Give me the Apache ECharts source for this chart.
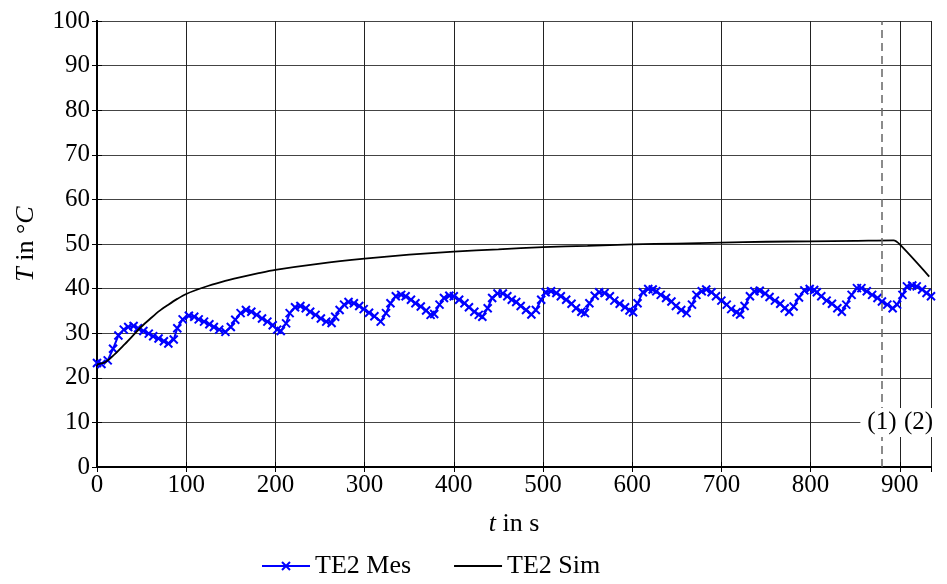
<!DOCTYPE html>
<html>
<head>
<meta charset="utf-8">
<script src="https://cdn.jsdelivr.net/npm/echarts@6/dist/echarts.min.js"></script>
<style>html,body{margin:0;padding:0;background:#fff}#c{width:947px;height:584px}</style>
</head>
<body>
<div id="c"></div>
<script>
// Measured TE2 (time in s, temperature in °C)
const mesT = [0,5,12,18,24,30,35,41,46,52,58,63,69,75,80,86,90,96,103,109,114,120,126,131,137,144,150,155,161,167,173,179,185,191,197,202,206,212,216,222,228,234,239,245,251,257,263,267,272,277,282,288,294,299,305,311,318,324,329,335,341,346,352,357,363,369,374,378,384,389,395,400,406,412,417,423,428,432,438,443,449,455,460,465,470,475,481,487,492,498,503,509,515,520,526,532,537,543,547,552,558,563,569,575,580,586,592,597,601,606,612,618,623,627,632,638,644,649,655,661,667,672,678,683,689,694,700,706,711,717,721,726,732,737,743,749,754,760,766,771,776,781,787,793,799,804,807,812,818,824,830,835,840,846,852,857,863,869,875,880,886,892,897,903,908,914,919,925,930,935];
const mesV = [23.3,23.1,23.9,26.5,29.5,30.8,31.4,31.6,31.1,30.5,29.9,29.3,28.8,28.2,27.7,28.6,31.1,33.1,33.9,33.7,33.1,32.6,32.0,31.4,30.8,30.3,31.4,33.0,34.5,35.2,34.8,34.1,33.3,32.6,31.8,30.8,30.5,32.2,34.5,35.8,36.1,35.6,34.8,34.1,33.3,32.6,32.3,33.7,35.2,36.4,37.0,36.7,36.1,35.4,34.6,33.8,32.6,34.5,36.7,38.3,38.6,38.3,37.5,36.7,36.0,35.1,34.1,34.3,36.4,37.9,38.4,38.3,37.5,36.7,35.8,34.8,34.1,33.7,35.6,37.9,38.9,38.9,38.3,37.5,37.0,36.1,35.2,34.2,35.2,37.5,39.2,39.4,39.0,38.3,37.5,36.6,35.6,34.8,34.5,36.7,38.4,39.2,39.0,38.3,37.3,36.6,35.8,35.1,34.7,36.7,39.2,39.9,39.8,39.4,38.6,37.9,37.1,36.1,35.2,34.5,36.4,38.6,39.4,39.8,39.2,38.3,37.3,36.4,35.4,34.7,34.2,36.1,38.3,39.4,39.5,38.9,38.1,37.3,36.6,35.6,34.8,36.0,38.0,39.6,39.9,39.7,39.2,38.3,37.3,36.6,35.6,34.8,36.4,38.6,40.1,40.1,39.4,38.6,37.9,37.1,36.4,35.6,36.4,38.6,40.5,40.7,40.5,39.8,39.0,38.3];
// Simulated TE2
const simT = [0,10,20,30,40,50,60,70,80,90,100,120,140,160,180,200,250,300,350,400,450,500,550,600,650,700,750,800,850,893,900,933];
const simV = [23.0,23.6,25.3,27.3,29.4,31.5,33.3,35.0,36.4,37.7,38.8,40.3,41.5,42.5,43.4,44.2,45.6,46.7,47.6,48.3,48.8,49.3,49.6,49.9,50.1,50.3,50.5,50.6,50.7,50.8,49.9,42.7];
// Annotations
const annX = [880, 921];
const annText = ['(1)', '(2)'];
const annY = 10;
const dashedX = 880;

const FONT = '"Liberation Serif", "DejaVu Serif", serif';
const FS = 25;
const FS2 = 26;
const chart = echarts.init(document.getElementById('c'), null, {renderer: 'canvas'});
const mes = mesT.map((t, i) => [t, mesV[i]]);
const sim = simT.map((t, i) => [t, simV[i]]);
const xMark = 'path://M0,0L10,10M10,0L0,10';

chart.setOption({
  animation: false,
  backgroundColor: '#fff',
  textStyle: {fontFamily: FONT},
  grid: {left: 97, right: 16, top: 21, bottom: 117},
  legend: {
    bottom: 0, left: 256, itemWidth: 48, itemHeight: 10, itemGap: 42,
    textStyle: {fontFamily: FONT, fontSize: FS2, color: '#000'},
    data: [
      {name: 'TE2 Mes'},
      {name: 'TE2 Sim', itemStyle: {opacity: 0, borderWidth: 0}}
    ]
  },
  xAxis: [{
    type: 'value', min: 0, max: 935, interval: 100,
    name: '{i|t} in s', nameLocation: 'middle', nameGap: 44,
    nameTextStyle: {fontFamily: FONT, fontSize: FS2, color: '#000',
      rich: {i: {fontStyle: 'italic', fontFamily: FONT, fontSize: FS2, color: '#000'}}},
    axisLine: {show: true, onZero: false, lineStyle: {color: '#000', width: 2}},
    axisTick: {show: true, inside: true, length: 5, lineStyle: {color: '#000'}},
    axisLabel: {fontFamily: FONT, fontSize: FS, color: '#000', margin: 6, showMaxLabel: false},
    splitLine: {show: true, lineStyle: {color: '#222', width: 1}}
  }, {
    type: 'value', position: 'top', min: 0, max: 935, interval: 100,
    axisLine: {show: true, lineStyle: {color: '#000', width: 2}},
    axisTick: {show: true, inside: true, length: 5, lineStyle: {color: '#000'}},
    axisLabel: {show: false}, splitLine: {show: false}
  }],
  yAxis: [{
    type: 'value', min: 0, max: 100, interval: 10,
    name: '{i|T} in °{i|C}', nameLocation: 'middle', nameGap: 58, nameRotate: 90,
    nameTextStyle: {fontFamily: FONT, fontSize: FS2, color: '#000',
      rich: {i: {fontStyle: 'italic', fontFamily: FONT, fontSize: FS2, color: '#000'}}},
    axisLine: {show: true, lineStyle: {color: '#000', width: 2}},
    axisTick: {show: true, inside: true, length: 5, lineStyle: {color: '#000'}},
    axisLabel: {fontFamily: FONT, fontSize: FS, color: '#000', margin: 7},
    splitLine: {show: true, lineStyle: {color: '#444', width: 1}}
  }, {
    type: 'value', position: 'right', min: 0, max: 100, interval: 10,
    axisLine: {show: true, lineStyle: {color: '#000', width: 2}},
    axisTick: {show: true, inside: true, length: 5, lineStyle: {color: '#000'}},
    axisLabel: {show: false}, splitLine: {show: false}
  }],
  series: [{
    name: 'TE2 Mes', type: 'line', data: mes,
    symbol: xMark, symbolSize: 8, showAllSymbol: true,
    lineStyle: {color: '#0000ff', width: 2},
    itemStyle: {color: '#0000ff', borderColor: '#0000ff', borderWidth: 2},
    z: 3
  }, {
    name: 'TE2 Sim', type: 'line', data: sim, smooth: 0.3,
    showSymbol: false, symbolSize: 0,
    lineStyle: {color: '#000', width: 1.8},
    itemStyle: {color: '#000'},
    z: 4,
    markLine: {
      silent: true, symbol: 'none',
      lineStyle: {color: '#666', type: [8, 5], width: 1.5},
      label: {show: false},
      data: [{xAxis: dashedX}]
    },
    markPoint: {
      silent: true, symbol: 'rect', symbolSize: 1,
      itemStyle: {color: 'rgba(0,0,0,0)'},
      label: {show: true, position: 'inside', fontFamily: FONT, fontSize: FS, color: '#000',
        backgroundColor: '#fff', padding: [2, 7]},
      data: annX.map((x, i) => ({coord: [x, annY], value: annText[i], label: {formatter: annText[i]}}))
    }
  }]
});
</script>
</body>
</html>
